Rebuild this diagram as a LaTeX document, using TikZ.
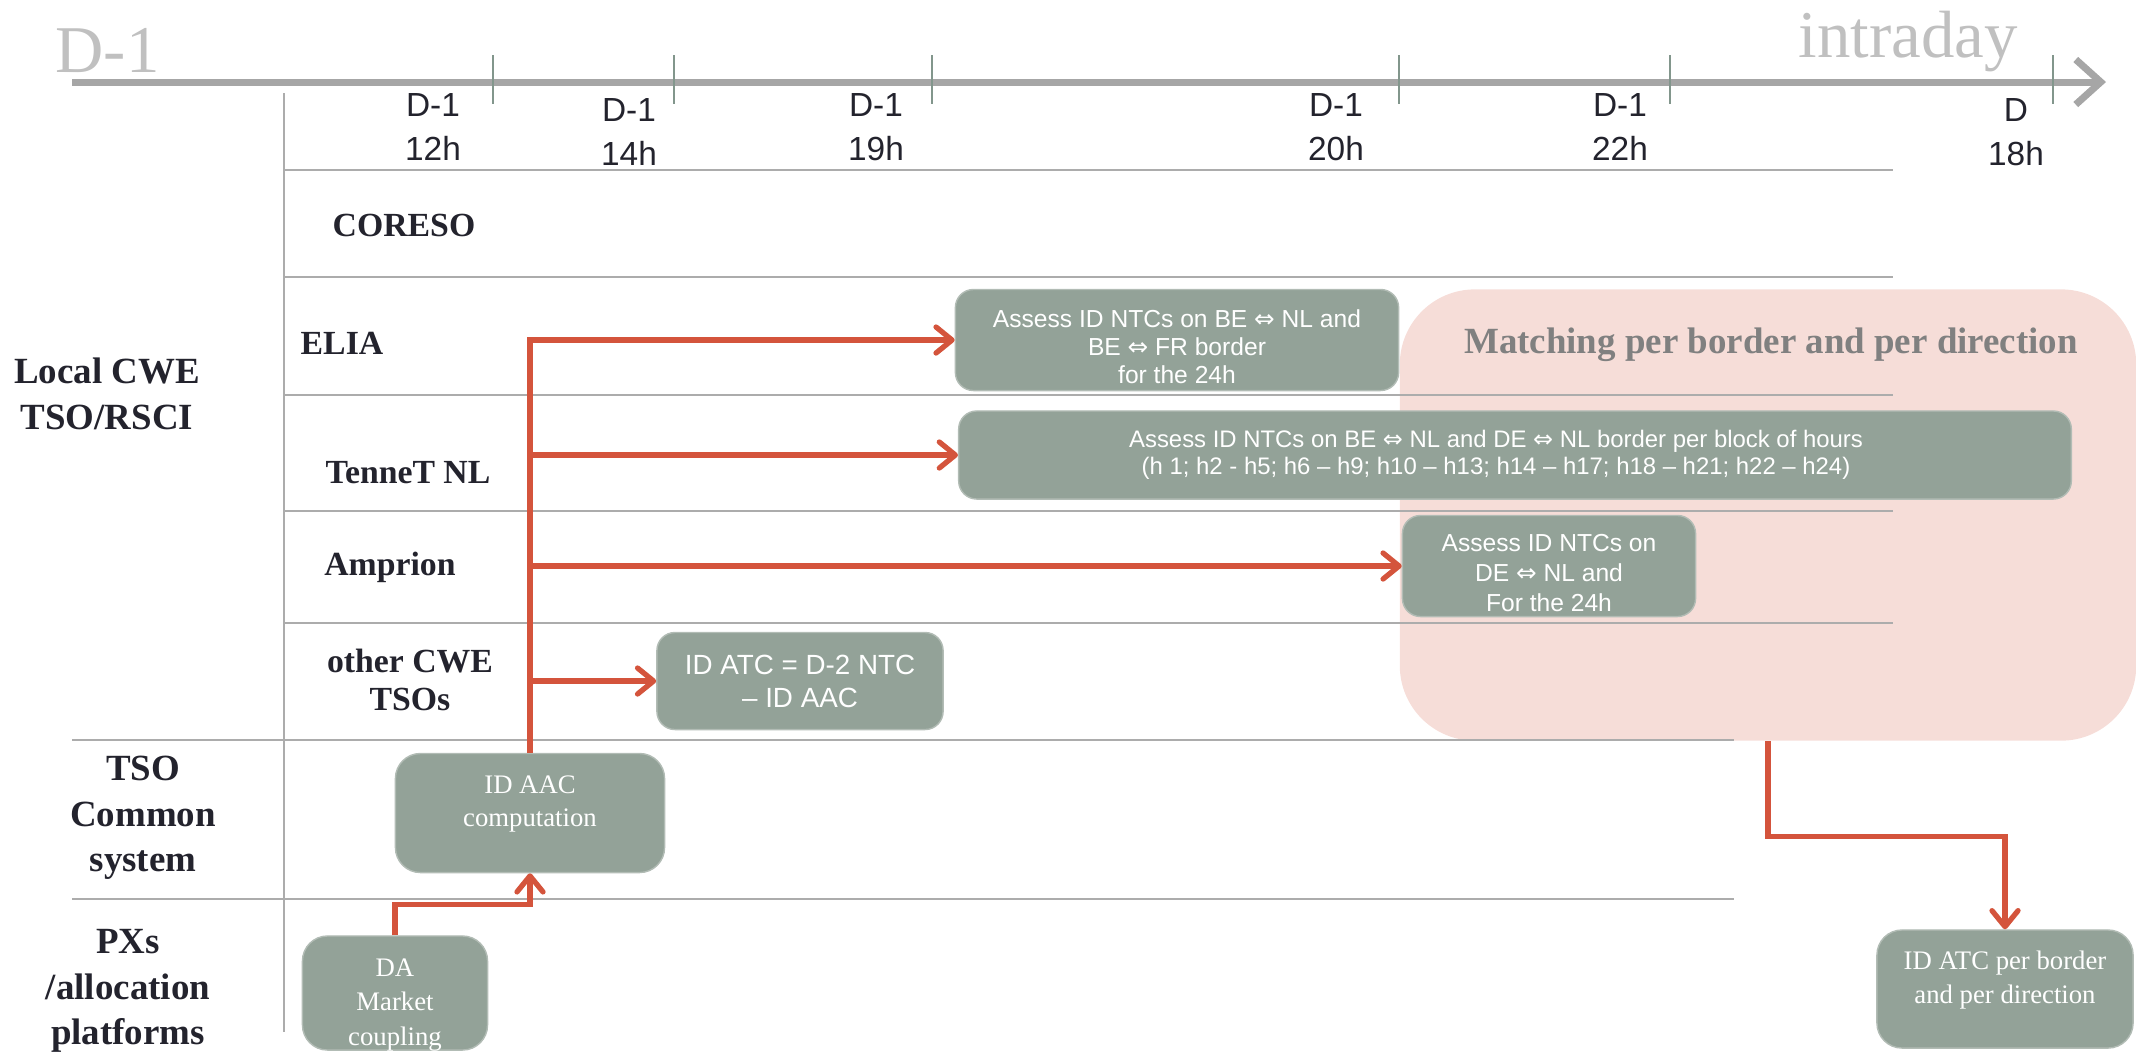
\documentclass[tikz,border=0pt]{standalone}
\usepackage{fontspec}
\setmainfont{Liberation Serif}
\newfontfamily\arialfont{Liberation Sans}
\newfontfamily\arrowfont{DejaVu Sans}
\usepackage{tikz}
\usetikzlibrary{positioning}
\usetikzlibrary{arrows.meta}
\definecolor{boxgreen}{RGB}{147,162,152}
\definecolor{boxedge}{RGB}{178,188,181}
\definecolor{flowred}{RGB}{212,84,60}
\definecolor{matchpink}{RGB}{246,221,216}
\definecolor{axisgray}{RGB}{166,166,166}
\definecolor{lanegray}{RGB}{172,172,172}
\definecolor{tickgray}{RGB}{130,150,140}
\definecolor{daygray}{RGB}{192,192,192}
\definecolor{matchgray}{RGB}{128,128,128}
\definecolor{inkdark}{RGB}{35,35,45}
\newcommand{\lra}{{\arrowfont ⇔}}

\begin{document}
\begin{tikzpicture}
[x=0.01cm,y=-0.01cm,
timeline/.style={draw=axisgray,line width=2pt,
  -{Straight Barb[length=0.25cm,width=0.45cm]}},
tick/.style={draw=tickgray,line width=0.6pt},
lane/.style={draw=lanegray,line width=0.5pt},
feed/.style={draw=flowred,line width=1.5pt,
  -{Straight Barb[length=0.16cm,width=0.26cm,round]}},
panel/.style={shape=rectangle,rounded corners=0.18cm,fill=boxgreen,
  draw=boxedge,thin},
panelserif/.style={panel,rounded corners=0.25cm},
sanstext/.style={text=white,align=center,inner sep=0pt,
  font=\arialfont\fontsize{7}{8}\selectfont},
seriftext/.style={text=white,align=center,inner sep=0pt,
  font=\fontsize{7.6}{9.6}\selectfont},
matching/.style={shape=rectangle,rounded corners=0.75cm,fill=matchpink},
matchtitle/.style={text=matchgray,font=\bfseries\fontsize{10.5}{12}\selectfont},
hour/.style={text=inkdark,align=center,inner sep=0pt,
  font=\arialfont\fontsize{9.5}{12.5}\selectfont},
actor/.style={text=inkdark,align=center,inner sep=0pt,
  font=\bfseries\fontsize{9.6}{10.8}\selectfont},
group/.style={text=inkdark,align=center,inner sep=0pt,
  font=\bfseries\fontsize{10.5}{13}\selectfont},
day/.style={text=daygray,inner sep=0pt,anchor=base west,
  font=\fontsize{19}{22}\selectfont}]

\useasboundingbox (0,0) rectangle (2136,1053);

\node[matching,minimum width=7.36cm,minimum height=4.51cm] (match)
    at (1768,515) {};
\node[matchtitle] (matchtext) at (1771,345)
    {Matching per border and per direction};

\coordinate (start) at (72,82);
\coordinate (end) at (2106,82);
\draw[timeline] (start) -- (end);
\foreach \x in {493,674,932,1399,1670,2053}
    \draw[tick] (\x,55) -- (\x,104);
\node[day] (dminus) at (55,72) {D-1};
\node[day] (intraday) at (1798,57) {intraday};

\node[hour] (t12) at (433,127) {D-1\\12h};
\node[hour] (t14) at (629,132) {D-1\\14h};
\node[hour] (t19) at (876,127) {D-1\\19h};
\node[hour] (t20) at (1336,127) {D-1\\20h};
\node[hour] (t22) at (1620,127) {D-1\\22h};
\node[hour] (t18) at (2016,132) {D\\18h};

\foreach \y in {170,277,395,511,623}
    \draw[lane] (284,\y) -- (1893,\y);
\foreach \y in {740,899}
    \draw[lane] (72,\y) -- (1734,\y);
\draw[lane] (284,93) -- (284,1032);

\node[group] (local) at (107,394) {Local CWE\\TSO/RSCI};
\node[group] (common) at (143,818) {TSO\\Common\\system};
\node[group] (pxs) at (128,991) {PXs\\/allocation\\platforms};

\node[actor] (coreso) at (404,225) {CORESO};
\node[actor] (elialabel) at (342,343) {ELIA};
\node[actor] (tennetlabel) at (408,473) {TenneT NL};
\node[actor] (amprionlabel) at (390,567) {Amprion};
\node[actor] (otherslabel) at (410,680) {other CWE\\TSOs};

\node[panel,minimum width=4.43cm,minimum height=1.01cm] (elia) at (1177,340) {};
\node[sanstext] (eliatext) at ([yshift=-1.8pt]elia.center)
    {Assess ID NTCs on BE \lra{} NL and\\BE \lra{} FR border\\for the 24h};
\node[panel,minimum width=11.12cm,minimum height=0.88cm] (tennet) at (1515,455) {};
\node[sanstext,font=\arialfont\fontsize{6.8}{7.7}\selectfont] (tennettext)
    at ([xshift=-5.4pt]tennet.center)
    {Assess ID NTCs on BE \lra{} NL and DE \lra{} NL border per block of hours\\
    (h 1; h2 - h5; h6 – h9; h10 – h13; h14 – h17; h18 – h21; h22 – h24)};
\node[panel,minimum width=2.93cm,minimum height=1.01cm] (amprion) at (1549,566) {};
\node[sanstext,font=\arialfont\fontsize{7}{8.5}\selectfont] (ampriontext)
    at ([yshift=-2pt]amprion.center)
    {Assess ID NTCs on\\DE \lra{} NL and\\For the 24h};
\node[panel,minimum width=2.86cm,minimum height=0.97cm] (others) at (800,681) {};
\node[sanstext,font=\arialfont\fontsize{7.9}{9.4}\selectfont] (otherstext)
    at (others.center) {ID ATC = D-2 NTC\\– ID AAC};

\node[panelserif,minimum width=2.69cm,minimum height=1.19cm] (aac) at (530,813) {};
\node[seriftext] (aactext) at ([yshift=2.6pt]aac.center) {ID AAC\\computation};
\node[panelserif,minimum width=1.85cm,minimum height=1.14cm] (da) at (395,993) {};
\node[seriftext,font=\fontsize{7.6}{9.8}\selectfont] (datext)
    at ([yshift=-3.4pt]da.center) {DA\\Market\\coupling};
\node[panelserif,minimum width=2.56cm,minimum height=1.18cm] (atc) at (2005,989) {};
\node[seriftext] (atctext) at ([yshift=2.6pt]atc.center)
    {ID ATC per border\\and per direction};

% flows
\draw[feed] (aac.north) |- (elia.west);
\draw[feed] (aac.north) |- (tennet.west);
\draw[feed] (aac.north) |- (amprion.west);
\draw[feed] (aac.north) |- (others.west);
\draw[feed] (da.north) -- ++(0,-31) -| (aac.south);
\draw[feed] (match.south) -- ++(0,95) -| (atc.north);
\end{tikzpicture}
\end{document}
